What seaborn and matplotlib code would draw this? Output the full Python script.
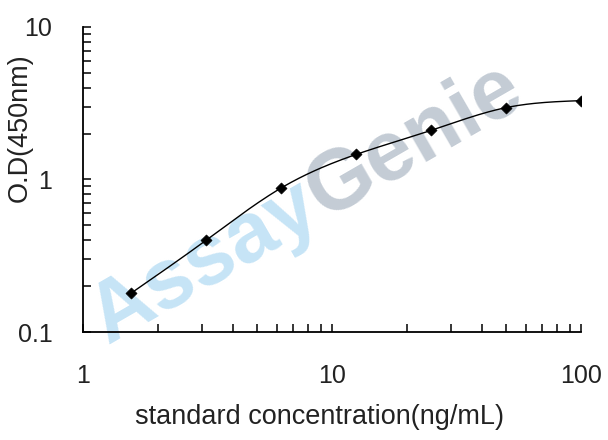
import numpy as np
import pandas as pd
import matplotlib
matplotlib.use("Agg")
import matplotlib.pyplot as plt
from matplotlib.ticker import LogLocator, NullFormatter, FixedLocator, FixedFormatter
import seaborn as sns

# data
concentration = [1.5625, 3.125, 6.25, 12.5, 25, 50, 100]
od450 = [0.180, 0.40, 0.88, 1.46, 2.10, 2.96, 3.29]
x_ticks = [1, 10, 100]
x_tick_labels = ["1", "10", "100"]
y_ticks = [0.1, 1, 10]
y_tick_labels = ["0.1", "1", "10"]

sns.set_style("ticks")
plt.rcParams['font.family'] = ['Liberation Sans', 'DejaVu Sans']

df = pd.DataFrame({"conc": concentration, "od": od450})

# smooth curve: natural cubic spline through the points in log-log space
lx = np.log10(df["conc"].to_numpy())
ly = np.log10(df["od"].to_numpy())
n = len(lx)
h = np.diff(lx)
A = np.zeros((n, n))
b = np.zeros(n)
A[0, 0] = 1
A[-1, -1] = 1
for i in range(1, n - 1):
    A[i, i - 1] = h[i - 1]
    A[i, i] = 2 * (h[i - 1] + h[i])
    A[i, i + 1] = h[i]
    b[i] = 3 * ((ly[i + 1] - ly[i]) / h[i] - (ly[i] - ly[i - 1]) / h[i - 1])
c = np.linalg.solve(A, b)
xs, ys = [], []
for i in range(n - 1):
    bi = (ly[i + 1] - ly[i]) / h[i] - h[i] * (2 * c[i] + c[i + 1]) / 3
    di = (c[i + 1] - c[i]) / (3 * h[i])
    t = np.linspace(0, h[i], 30, endpoint=(i == n - 2))
    xs.append(lx[i] + t)
    ys.append(ly[i] + bi * t + c[i] * t**2 + di * t**3)
curve = pd.DataFrame({"conc": 10 ** np.concatenate(xs), "od": 10 ** np.concatenate(ys)})

fig = plt.figure(figsize=(6.08, 4.40), dpi=100)
ax = fig.add_axes([83 / 608, 1 - 332 / 440, (581 - 83) / 608, (332 - 27) / 440])
ax.patch.set_alpha(0)

# watermark (behind the data)
ang = 30
fs = 61
em = fs * 100 / 72
start = np.array([108.0, 96.0])
d = np.array([np.cos(np.radians(ang)), np.sin(np.radians(ang))])
p2 = start + d * 2.946 * em
for txt, pos, col in [("Assay", start, "#c6e4f6"), ("Genie", p2, "#c4ccd5")]:
    ax.text(pos[0] / 608, pos[1] / 440, txt, transform=fig.transFigure, fontsize=fs,
            fontweight="bold", color=col, rotation=ang, rotation_mode="anchor",
            ha="left", va="baseline", zorder=0.5, clip_on=False)

sns.lineplot(data=curve, x="conc", y="od", ax=ax, color="black", linewidth=1.0, zorder=3)
sns.scatterplot(data=df, x="conc", y="od", ax=ax, marker="D", s=32, color="black",
                edgecolor="black", zorder=4)

ax.set_xscale("log")
ax.set_yscale("log")
ax.set_xlim(1, 100)
ax.set_ylim(0.1, 10)

ax.xaxis.set_major_locator(FixedLocator(x_ticks))
ax.xaxis.set_major_formatter(FixedFormatter(x_tick_labels))
ax.yaxis.set_major_locator(FixedLocator(y_ticks))
ax.yaxis.set_major_formatter(FixedFormatter(y_tick_labels))
ax.xaxis.set_minor_locator(LogLocator(base=10, subs=np.arange(2, 10)))
ax.yaxis.set_minor_locator(LogLocator(base=10, subs=np.arange(2, 10)))
ax.xaxis.set_minor_formatter(NullFormatter())
ax.yaxis.set_minor_formatter(NullFormatter())

for s in ["top", "right"]:
    ax.spines[s].set_visible(False)
for s in ["left", "bottom"]:
    ax.spines[s].set_color("black")
    ax.spines[s].set_linewidth(1.3)
    ax.spines[s].set_zorder(5)

ax.tick_params(axis="x", which="both", direction="in", length=6, width=1.1, color="black",
               bottom=True, top=False, labelsize=18, labelcolor="#222222", pad=23)
ax.tick_params(axis="y", which="both", direction="in", length=6, width=1.1, color="black",
               left=True, right=False, labelsize=18, labelcolor="#222222", pad=22)

ax.set_xlabel("standard concentration(ng/mL)", fontsize=19.5, color="#222222")
ax.set_ylabel("O.D(450nm)", fontsize=19.5, color="#222222")
ax.xaxis.set_label_coords(0.475, -0.235)
ax.yaxis.set_label_coords(-0.10, 0.67)

fig.savefig("out.png", dpi=100)
